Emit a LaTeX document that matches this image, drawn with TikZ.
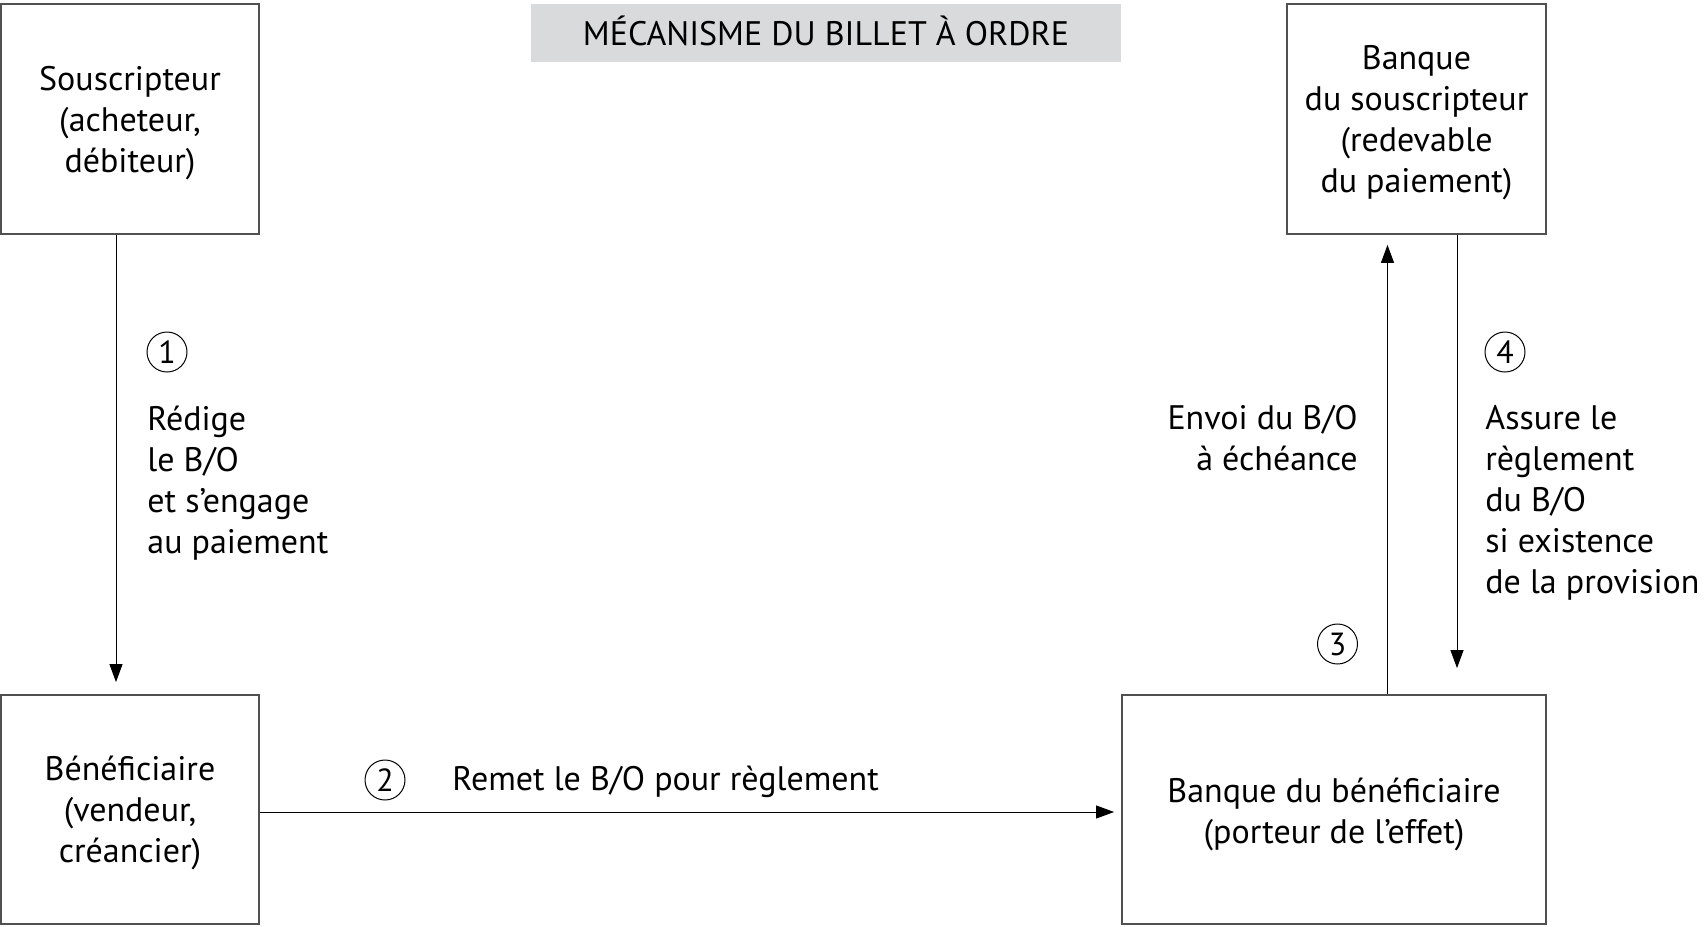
\documentclass[tikz,border=0pt]{standalone}
\usepackage{fontspec}
\setmainfont{PT Sans}
\usetikzlibrary{arrows.meta}
\definecolor{titlegray}{HTML}{D9DADB}
\definecolor{boxline}{HTML}{505050}
\begin{document}
\begin{tikzpicture}[x=0.5pt,y=-0.5pt,
  txt/.style={font=\fontsize{17}{20.5}\selectfont},
  box/.style={draw=boxline,line width=0.9pt,inner sep=0pt},
  arr/.style={-{Triangle[length=9pt,width=6.5pt]},line width=0.5pt},
  num/.style={circle,draw,line width=0.5pt,minimum size=20pt,inner sep=0pt,font=\fontsize{16}{18}\selectfont},
  lbl/.style={txt,inner sep=0pt}]
\useasboundingbox (0,0) rectangle (1705,927);
\node[box,minimum width=129pt,minimum height=115pt] (sous) at (130,119) {};
\node[box,minimum width=129.5pt,minimum height=115pt] (bs) at (1416.5,119) {};
\node[box,minimum width=129pt,minimum height=114.5pt] (benef) at (130,809.5) {};
\node[box,minimum width=212pt,minimum height=114.5pt] (bb) at (1334,809.5) {};
\node[lbl,align=center] (sous-t) at ([yshift=-2pt]sous.center) {Souscripteur\\(acheteur,\\débiteur)};
\node[lbl,align=center] (bs-t) at ([yshift=-2pt]bs.center) {Banque\\du souscripteur\\(redevable\\du paiement)};
\node[lbl,align=center] (benef-t) at ([yshift=-1.6pt]benef.center) {Bénéficiaire\\(vendeur,\\créancier)};
\node[lbl,align=center] (bb-t) at ([yshift=-2.4pt]bb.center) {Banque du bénéficiaire\\(porteur de l’effet)};
\node[fill=titlegray,minimum width=295pt,minimum height=29pt,inner sep=0pt] (title) at (826,33) {};
\node[lbl] (title-t) at ([yshift=1.2pt]title.center) {MÉCANISME DU BILLET À ORDRE};
\coordinate (c1) at (116,0);
\coordinate (c2) at (0,812);
\coordinate (c3) at (1387.5,0);
\coordinate (c4) at (1457,0);
\draw[arr,shorten >=6pt] (sous.south -| c1) -- (benef.north -| c1);
\draw[arr,shorten >=3.5pt] (benef.east |- c2) -- (bb.west |- c2);
\draw[arr,shorten >=5pt] (bb.north -| c3) -- (bs.south -| c3);
\draw[arr,shorten >=13pt] (bs.south -| c4) -- (bb.north -| c4);
\node[num] (n1) at (167,352) {1};
\node[num] (n2) at (385,780) {2};
\node[num] (n3) at (1337.5,644) {3};
\node[num] (n4) at (1505,352) {4};
\node[lbl,align=left,anchor=west] (l1) at (147,483) {Rédige\\le B/O\\et s’engage\\au paiement};
\node[lbl,anchor=west] (l2) at (452,782) {Remet le B/O pour règlement};
\node[lbl,align=right,anchor=east] (l3) at (1358,438.5) {Envoi du B/O\\à échéance};
\node[lbl,align=left,anchor=west] (l4) at (1485,503) {Assure le\\règlement\\du B/O\\si existence\\de la provision};
\end{tikzpicture}
\end{document}
